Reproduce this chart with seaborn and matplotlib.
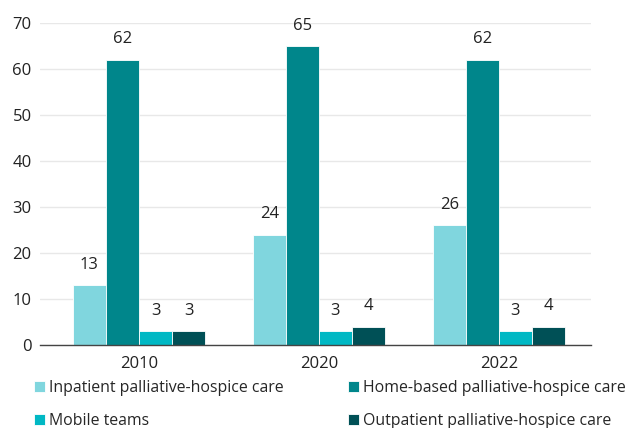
import matplotlib
matplotlib.use("Agg")
import matplotlib.pyplot as plt
import seaborn as sns
import pandas as pd

years = ["2010", "2020", "2022"]
services = [
    "Inpatient palliative-hospice care",
    "Home-based palliative-hospice care",
    "Mobile teams",
    "Outpatient palliative-hospice care",
]
inpatient = [13, 24, 26]
home_based = [62, 65, 62]
mobile = [3, 3, 3]
outpatient = [3, 4, 4]
colors = ["#80D6DE", "#00868B", "#00B8C4", "#005056"]

rows = []
for name, vals in zip(services, [inpatient, home_based, mobile, outpatient]):
    for y, v in zip(years, vals):
        rows.append({"Year": y, "Service": name, "Value": v})
df = pd.DataFrame(rows)

sns.set_theme(style="white")
plt.rcParams["font.family"] = ["Open Sans", "DejaVu Sans"]

fig = plt.figure(figsize=(6.3, 4.28), dpi=100)
ax = fig.add_axes([0.0635, 0.194, 0.874, 0.752])

sns.barplot(data=df, x="Year", y="Value", hue="Service", hue_order=services,
            order=years, palette=colors, width=0.735, ax=ax,
            edgecolor="white", linewidth=0.6, saturation=1)

for cont in ax.containers:
    ax.bar_label(cont, labels=[f"{int(v)}" for v in cont.datavalues],
                 padding=9, fontsize=12, color="#222222")

ax.set_ylim(0, 70)
ax.set_xlim(-0.55, 2.51)
ax.set_yticks(range(0, 71, 10))
ax.yaxis.grid(True, color="#e8e8e8", linewidth=1)
ax.set_axisbelow(True)
ax.set_xlabel("")
ax.set_ylabel("")
for s in ["top", "right", "left"]:
    ax.spines[s].set_visible(False)
ax.spines["bottom"].set_color("#444444")
ax.spines["bottom"].set_linewidth(1)
ax.tick_params(axis="both", length=0, labelsize=12, colors="#222222", pad=8)
ax.tick_params(axis="y", pad=6)

handles, labels = ax.get_legend_handles_labels()
ax.get_legend().remove()
# legend reads row by row: order handles for column-wise filling
order = [0, 2, 1, 3]
fig.legend([handles[i] for i in order], [labels[i] for i in order],
           loc="lower left", bbox_to_anchor=(0.044, -0.017),
           ncol=2, frameon=False, fontsize=11.4, handlelength=0.7,
           handleheight=0.7, handletextpad=0.25, columnspacing=4.05,
           labelspacing=1.05, borderaxespad=0)

fig.savefig("out.png", dpi=100)
